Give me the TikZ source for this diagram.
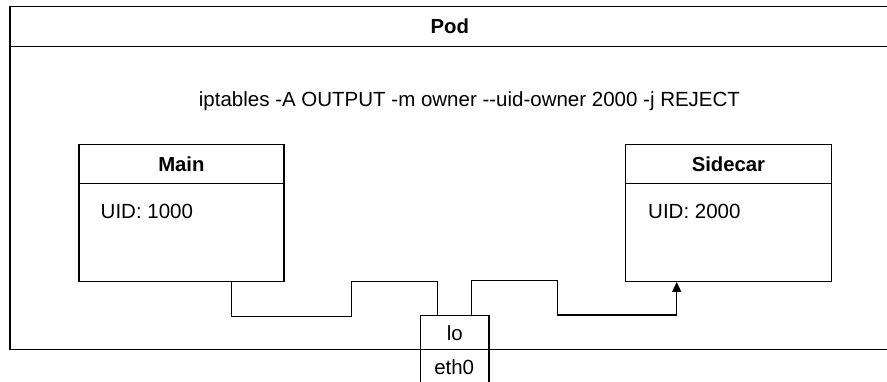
\documentclass[tikz,border=0pt]{standalone}
\usepackage{fontspec}
\setmainfont{Liberation Sans}
\usetikzlibrary{arrows.meta,calc}
\begin{document}
\begin{tikzpicture}[x=1pt,y=-1pt,
  box/.style={draw=black, line width=1.2pt, rectangle, inner sep=0pt, anchor=north west},
  ttl/.style={font=\fontsize{20.3}{24}\selectfont\bfseries},
  txt/.style={font=\fontsize{20.5}{24}\selectfont, inner sep=0pt},
  wire/.style={draw=black, line width=1.2pt}]
\useasboundingbox (0,0) rectangle (887,382);
% Pod
\node[box, minimum width=879.7pt, minimum height=343.3pt] (pod) at (9.3,6) {};
\node[box, minimum width=879.7pt, minimum height=39.7pt, ttl] (podhead) at (9.3,6) {Pod};
\node[txt] (rule) at (469.5,101) {iptables -A OUTPUT -m owner -{}-uid-owner 2000 -j REJECT};
% Main
\node[box, minimum width=205pt, minimum height=136.7pt] (main) at (78.3,144) {};
\node[box, minimum width=205pt, minimum height=38.7pt, ttl] (mainhead) at (78.3,144) {Main};
\node[txt, anchor=west] (mainuid) at (100.5,211) {UID: 1000};
% Sidecar
\node[box, minimum width=205.7pt, minimum height=136.7pt] (sidecar) at (625,144) {};
\node[box, minimum width=205.7pt, minimum height=38.7pt, ttl] (sidehead) at (625,144) {Sidecar};
\node[txt, anchor=west] (sideuid) at (648,211) {UID: 2000};
% interfaces
\node[box, fill=white, minimum width=68.3pt, minimum height=34.3pt, font=\fontsize{20.5}{24}\selectfont] (lo) at (420,315) {lo};
\node[box, fill=white, minimum width=68.3pt, minimum height=40pt, font=\fontsize{20.5}{24}\selectfont, text depth=0pt] (eth) at (420,349.3) {};
\node[txt] (ethlabel) at (454.2,367) {eth0};
% connectors
\draw[wire] ([xshift=153.4pt]main.south west) -- ++(0,34.3) -- ++(120,0) -- ++(0,-34.3) -- ++(85.6,0) -- ([xshift=17.3pt]lo.north west);
\draw[wire,-{Triangle[length=10pt,width=9pt]}] ([xshift=51.7pt]lo.north west) -- ++(0,-34.3) -- ++(85.6,0) -- ++(0,34.3) -- ++(119.4,0) -- ([xshift=51.7pt]sidecar.south west);
\end{tikzpicture}
\end{document}
